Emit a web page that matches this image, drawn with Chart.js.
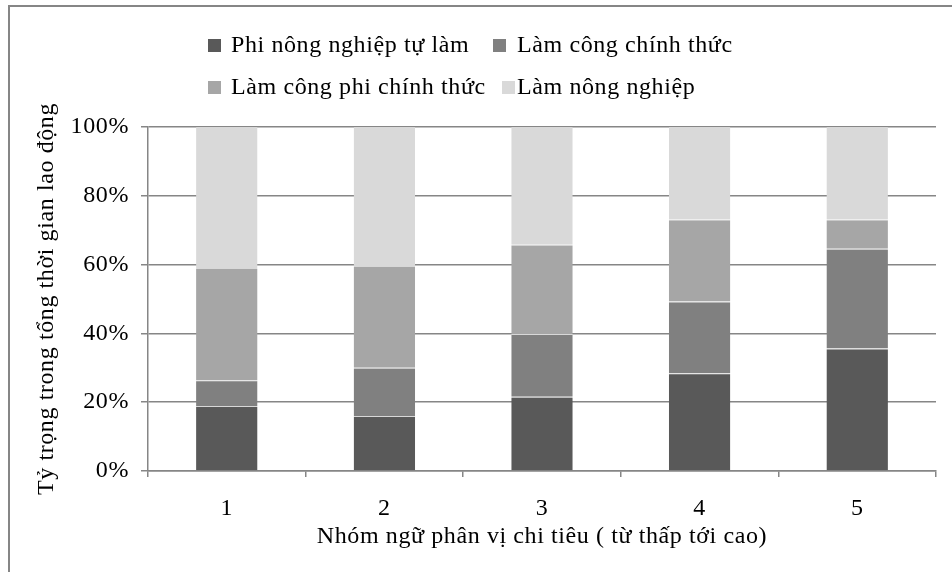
<!DOCTYPE html>
<html>
<head>
<meta charset="utf-8">
<script src="https://cdn.jsdelivr.net/npm/chart.js@4"></script>
<style>
  body { margin: 0; background: #fff; }
  #wrap { width: 952px; height: 572px; }
</style>
</head>
<body>
<div id="wrap"><canvas id="chart" width="952" height="572"></canvas></div>
<script>
const categories = ['1', '2', '3', '4', '5'];
const seriesNames = ['Phi nông nghiệp tự làm', 'Làm công chính thức', 'Làm công phi chính thức', 'Làm nông nghiệp'];
const selfEmployed = [18.9, 16.0, 21.6, 28.4, 35.6];
const formalWage = [7.5, 14.0, 18.2, 20.9, 29.0];
const informalWage = [32.6, 29.6, 26.0, 23.8, 8.5];
const agriculture = [41.0, 40.4, 34.2, 26.9, 26.9];
const colors = ['#595959', '#808080', '#a6a6a6', '#d9d9d9'];

const FONT = 'Liberation Serif, Times New Roman, serif';
const FONT_SIZE = 24;
const GRID = '#868686';

// legend is drawn by hand so the rows wrap two by two, left aligned
const legendSpots = [
  { box: 208, text: 231, y: 46 },
  { box: 493, text: 517, y: 46 },
  { box: 208, text: 231, y: 88 },
  { box: 502, text: 517, y: 88 }
];

// the reference text runs wide, a little letter spacing gets close to it
const spacing = {
  id: 'spacing',
  beforeLayout(chart) { chart.ctx.letterSpacing = '0.6px'; },
  beforeDraw(chart) { chart.ctx.letterSpacing = '0.6px'; }
};

const frameAndLegend = {
  id: 'frameAndLegend',
  afterDraw(chart) {
    const ctx = chart.ctx;
    ctx.save();
    ctx.strokeStyle = GRID;
    ctx.lineWidth = 2;
    ctx.beginPath();
    ctx.moveTo(9, 572);
    ctx.lineTo(9, 6);
    ctx.lineTo(952, 6);
    ctx.stroke();

    ctx.font = FONT_SIZE + 'px ' + FONT;
    ctx.textBaseline = 'middle';
    chart.data.datasets.forEach((ds, i) => {
      const s = legendSpots[i];
      ctx.fillStyle = ds.backgroundColor;
      ctx.fillRect(s.box, s.y - 7, 13, 13);
      ctx.fillStyle = '#000';
      ctx.fillText(ds.label, s.text, s.y);
    });
    ctx.restore();
  }
};

const series = [selfEmployed, formalWage, informalWage, agriculture];

new Chart(document.getElementById('chart'), {
  type: 'bar',
  data: {
    labels: categories,
    datasets: series.map((vals, i) => ({
      label: seriesNames[i],
      data: vals,
      backgroundColor: colors[i],
      borderColor: '#d8d8d8',
      borderWidth: { top: 1, bottom: 0, left: 0, right: 0 },
      borderSkipped: false,
      categoryPercentage: 1,
      barPercentage: 0.39
    }))
  },
  options: {
    responsive: false,
    animation: false,
    layout: { padding: { top: 127, left: 30, right: 16, bottom: 20 } },
    plugins: {
      legend: { display: false },
      tooltip: { enabled: false }
    },
    scales: {
      x: {
        stacked: true,
        afterFit(scale) { scale.height = 81; },
        grid: {
          offset: true,
          drawOnChartArea: false,
          color: GRID,
          lineWidth: 1.5,
          tickLength: 6
        },
        border: { color: GRID, width: 1.5 },
        ticks: { color: '#000', font: { family: FONT, size: FONT_SIZE }, padding: 17 },
        title: {
          display: true,
          text: 'Nhóm ngữ phân vị chi tiêu ( từ thấp tới cao)',
          color: '#000',
          font: { family: FONT, size: FONT_SIZE },
          padding: { top: 0, bottom: 1 }
        }
      },
      y: {
        stacked: true,
        min: 0,
        max: 100,
        afterFit(scale) { scale.width = 118; },
        grid: { color: GRID, lineWidth: 1.5, tickLength: 7 },
        border: { color: GRID, width: 1.5 },
        ticks: {
          stepSize: 20,
          color: '#000',
          font: { family: FONT, size: FONT_SIZE },
          padding: 12,
          callback: v => v + '%'
        },
        title: {
          display: true,
          text: 'Tỷ trọng trong tổng thời gian lao động',
          color: '#000',
          font: { family: FONT, size: FONT_SIZE },
          padding: { top: 2, bottom: 0 }
        }
      }
    }
  },
  plugins: [spacing, frameAndLegend]
});
</script>
</body>
</html>
